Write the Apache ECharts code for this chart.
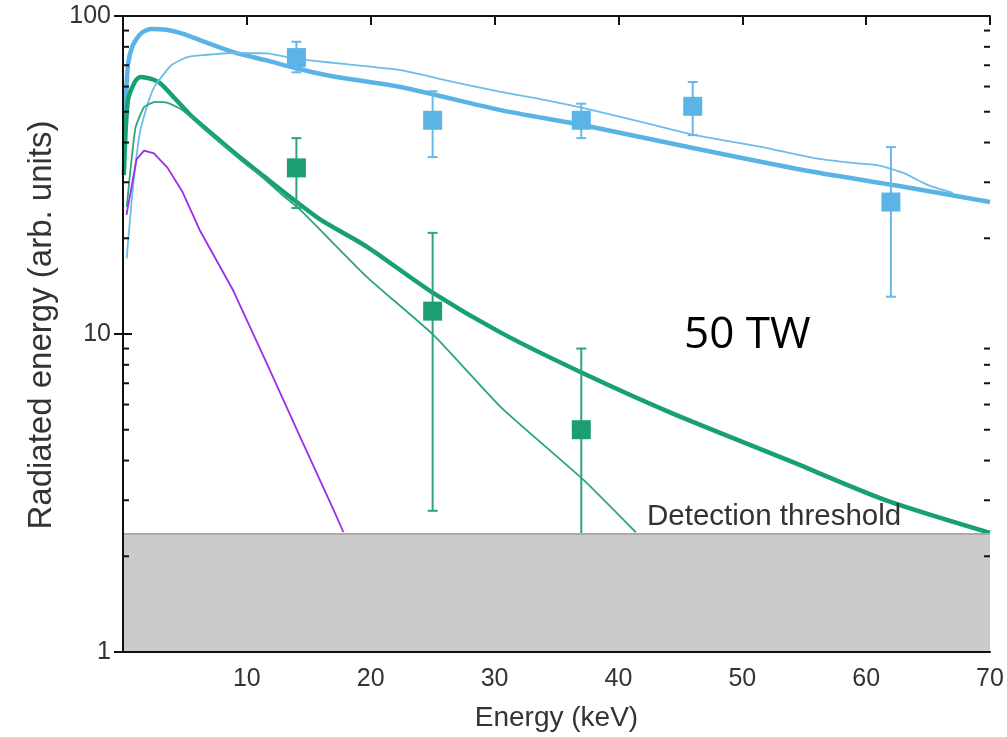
<!DOCTYPE html>
<html>
<head>
<meta charset="utf-8">
<script src="https://cdn.jsdelivr.net/npm/echarts@6/dist/echarts.min.js"></script>
<style>
html, body { margin: 0; padding: 0; background: #fff; }
#main { width: 1007px; height: 737px; }
</style>
</head>
<body>
<div id="main"></div>
<script>
// measured points (blue = upper data set, green = lower data set)
var blueX = [14, 25, 37, 46, 62];
var blueY = [74, 47, 47, 52, 26];
var blueLo = [66.5, 36, 41.3, 42.2, 13.1];
var blueHi = [83, 58, 53, 62, 38.7];

var greenX = [14, 25, 37];
var greenY = [33.3, 11.8, 5.0];
var greenLo = [24.9, 2.78, 1];
var greenHi = [41.3, 20.8, 9.0];

// simulated spectra
var thickBlueX = [0.15, 0.4, 0.8, 1.5, 2.3, 3.5, 4.8, 6.2, 8.9, 11.6, 14, 17, 22.4, 30.5, 37.1, 46.8, 54.9, 62.2, 70];
var thickBlueY = [46, 70, 81, 88.5, 91, 90.5, 88, 84, 77, 72.5, 68.5, 64.5, 59.8, 50.6, 45.4, 37.9, 32.8, 29.4, 26];

var thinBlueX = [0.3, 0.8, 1.36, 1.9, 2.4, 2.8, 3.9, 5.2, 6.6, 8.9, 11.6, 14, 17, 22.4, 26, 30.5, 34, 37.1, 41.9, 46.2, 51.6, 55.7, 58.9, 60.8, 63, 65, 67];
var thinBlueY = [17.3, 28.8, 42.9, 51.5, 58.5, 62, 70, 74.3, 75.4, 76.5, 76.3, 73.3, 71.2, 67.6, 62.9, 57.7, 54.5, 51.4, 46.4, 42.2, 38.7, 35.8, 34.5, 34, 32.1, 29.4, 27.8];

var thickGreenX = [0.07, 0.39, 0.95, 1.4, 2.2, 3.0, 4.2, 5.4, 6.6, 8.0, 9.6, 11.3, 12.8, 14.3, 16, 19.7, 25, 30.5, 37.1, 44.3, 53.7, 61.5, 70];
var thickGreenY = [31.6, 54, 62, 64.3, 63.5, 61.5, 55, 49, 44.5, 40, 35.5, 31.5, 28.3, 25.5, 22.8, 18.8, 13.5, 10.1, 7.54, 5.64, 4.01, 3.01, 2.37];

var thinGreenX = [0.3, 1.0, 1.7, 2.6, 3.6, 4.8, 6.6, 8.0, 9.6, 11.3, 12.8, 14.3, 19.7, 25.1, 30.5, 37.2, 41.4];
var thinGreenY = [25.1, 44.4, 51.7, 53.7, 53.3, 50.6, 44, 39.5, 35, 31, 27.5, 24.6, 15.1, 9.9, 5.89, 3.47, 2.38];

var purpleX = [0.28, 1.1, 1.7, 2.5, 3.6, 4.8, 6.2, 8.9, 11.6, 14.3, 17.0, 17.8];
var purpleY = [23.7, 35.5, 37.7, 37, 33.3, 28, 21.2, 13.7, 8.1, 4.75, 2.8, 2.38];

var threshold = 2.35;
var minorTicks = [2, 3, 4, 5, 6, 7, 8, 9, 20, 30, 40, 50, 60, 70, 80, 90];

var FONT = '"Liberation Sans", Arial, sans-serif';

function pairs(xs, ys) {
    return xs.map(function (x, i) { return [x, ys[i]]; });
}

function curve(xs, ys, color, width, smooth) {
    return {
        type: 'line',
        data: pairs(xs, ys),
        showSymbol: false,
        smooth: smooth,
        lineStyle: { color: color, width: width },
        z: 2
    };
}

function errorBars(xs, lo, hi, color) {
    return {
        type: 'custom',
        data: xs.map(function (x, i) { return [x, lo[i], hi[i]]; }),
        encode: { x: 0, y: [1, 2] },
        renderItem: function (params, api) {
            var top = api.coord([api.value(0), api.value(2)]);
            var bot = api.coord([api.value(0), api.value(1)]);
            var cap = 5;
            var st = { stroke: color, lineWidth: 2 };
            return {
                type: 'group',
                children: [
                    { type: 'line', shape: { x1: top[0], y1: top[1], x2: bot[0], y2: bot[1] }, style: st },
                    { type: 'line', shape: { x1: top[0] - cap, y1: top[1], x2: top[0] + cap, y2: top[1] }, style: st },
                    { type: 'line', shape: { x1: bot[0] - cap, y1: bot[1], x2: bot[0] + cap, y2: bot[1] }, style: st }
                ]
            };
        },
        z: 3
    };
}

function squares(xs, ys, color) {
    return {
        type: 'scatter',
        data: pairs(xs, ys),
        symbol: 'rect',
        symbolSize: 19,
        itemStyle: { color: color, opacity: 1 },
        z: 4
    };
}

var chart = echarts.init(document.getElementById('main'));

var option = {
    animation: false,
    backgroundColor: '#fff',
    grid: { left: 123, right: 17, top: 16, bottom: 85 },
    xAxis: [{
        type: 'value',
        min: 0,
        max: 70,
        interval: 10,
        name: 'Energy (keV)',
        nameLocation: 'middle',
        nameGap: 52,
        nameTextStyle: { fontSize: 28, color: '#333', fontFamily: FONT },
        axisLine: { lineStyle: { color: '#111', width: 2 } },
        axisTick: { show: false },
        axisLabel: { showMinLabel: false, fontSize: 25, color: '#333', fontFamily: FONT, margin: 15 },
        splitLine: { show: false },
        z: 10
    }, {
        type: 'value',
        position: 'top',
        min: 0,
        max: 70,
        interval: 10,
        axisLine: { lineStyle: { color: '#111', width: 2 } },
        axisTick: { inside: true, length: 9, lineStyle: { color: '#111', width: 2 } },
        axisLabel: { show: false },
        splitLine: { show: false },
        z: 10
    }],
    yAxis: [{
        type: 'log',
        logBase: 10,
        min: 1,
        max: 100,
        name: 'Radiated energy (arb. units)',
        nameLocation: 'middle',
        nameGap: 56,
        nameTextStyle: { fontSize: 33, color: '#333', fontFamily: FONT, padding: [0, 0, 0, 18] },
        axisLine: { show: true, lineStyle: { color: '#111', width: 2 } },
        axisTick: { inside: true, length: 9, lineStyle: { color: '#111', width: 2 } },
        axisLabel: { fontSize: 25, color: '#333', fontFamily: FONT, margin: 12 },
        splitLine: { show: false },
        z: 10
    }, {
        type: 'log',
        logBase: 10,
        min: 1,
        max: 100,
        position: 'right',
        axisLine: { show: true, lineStyle: { color: '#111', width: 2 } },
        axisTick: { inside: true, length: 9, lineStyle: { color: '#111', width: 2 } },
        axisLabel: { show: false },
        splitLine: { show: false },
        z: 10
    }],
    graphic: [{
        type: 'text',
        left: 684,
        top: 313,
        style: { text: '50 TW', fontSize: 44, fontFamily: '"Open Sans", "Noto Sans", sans-serif', fill: '#000' },
        z: 20
    }, {
        type: 'text',
        left: 647,
        top: 502,
        style: { text: 'Detection threshold', fontSize: 29.5, fontFamily: FONT, fill: '#333' },
        z: 20
    }],
    series: [
        curve(thickBlueX, thickBlueY, '#5ab3e6', 4.5, 0.25),
        curve(thickGreenX, thickGreenY, '#17a075', 4.5, 0.25),
        curve(thinBlueX, thinBlueY, '#6dbde9', 1.8, 0.2),
        curve(thinGreenX, thinGreenY, '#2aa67e', 1.8, 0.15),
        curve(purpleX, purpleY, '#9b2de8', 1.8, false),
        errorBars(blueX, blueLo, blueHi, '#6ab8e8'),
        errorBars(greenX, greenLo, greenHi, '#2fa47c'),
        squares(blueX, blueY, '#5cb3e6'),
        squares(greenX, greenY, '#1b9e73'),
        {
            // detection threshold band
            type: 'custom',
            data: [[0, 70, 1, threshold]],
            encode: { x: [0, 1], y: [2, 3] },
            renderItem: function (params, api) {
                var p1 = api.coord([api.value(0), api.value(3)]);
                var p2 = api.coord([api.value(1), api.value(2)]);
                return {
                    type: 'group',
                    children: [
                        { type: 'rect', shape: { x: p1[0], y: p1[1], width: p2[0] - p1[0], height: p2[1] - p1[1] }, style: { fill: '#cbcbcb' } },
                        { type: 'line', shape: { x1: p1[0], y1: p1[1], x2: p2[0], y2: p1[1] }, style: { stroke: '#aaa', lineWidth: 2 } }
                    ]
                };
            },
            z: 6
        },
        {
            // minor log ticks on both y axes
            type: 'custom',
            data: minorTicks.map(function (v) { return [0, v]; }),
            encode: { x: 0, y: 1 },
            renderItem: function (params, api) {
                var y = api.coord([0, api.value(1)])[1];
                var l = params.coordSys.x;
                var r = l + params.coordSys.width;
                var st = { stroke: '#111', lineWidth: 2 };
                return {
                    type: 'group',
                    children: [
                        { type: 'line', shape: { x1: l, y1: y, x2: l + 6, y2: y }, style: st },
                        { type: 'line', shape: { x1: r - 6, y1: y, x2: r, y2: y }, style: st }
                    ]
                };
            },
            z: 11
        }
    ]
};

chart.setOption(option);
</script>
</body>
</html>
